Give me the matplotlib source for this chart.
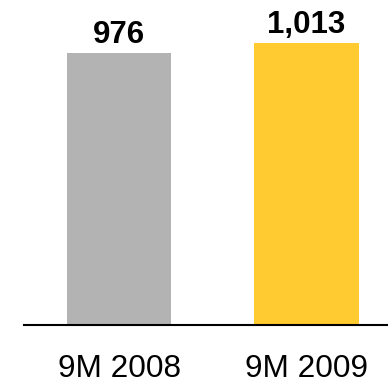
import matplotlib
matplotlib.use("Agg")
import matplotlib.pyplot as plt

# ── Data ──────────────────────────────────────────────────────────────────────
periods = ["9M 2008", "9M 2009"]
values = [976, 1013]
value_labels = ["976", "1,013"]
bar_colors = ["#b3b3b3", "#ffcb31"]

plt.rcParams["font.family"] = ["Liberation Sans", "DejaVu Sans"]

fig = plt.figure(figsize=(3.88, 3.80), dpi=100)
# axes spans from x=24px to right edge, baseline at y=325px
ax = fig.add_axes([24 / 388, 55 / 380, 364 / 388, 325 / 380])

x = range(len(periods))
bars = ax.bar(x, values, width=0.557, color=bar_colors, zorder=2)

for bar, lbl in zip(bars, value_labels):
    ax.annotate(lbl, (bar.get_x() + bar.get_width() / 2, bar.get_height()),
                xytext=(0, 2), textcoords="offset points",
                ha="center", va="bottom", fontsize=22.5, fontweight="bold")

ax.set_xlim(-0.507, 1.435)
ax.set_ylim(0, 1166)
ax.set_xticks(list(x))
ax.set_xticklabels(periods, fontsize=22.7)
ax.tick_params(axis="x", length=0, pad=21)
ax.set_yticks([])

for side in ("top", "right", "left"):
    ax.spines[side].set_visible(False)
ax.spines["bottom"].set_linewidth(1.5)
ax.spines["bottom"].set_color("black")

fig.savefig("out.png", dpi=100)
